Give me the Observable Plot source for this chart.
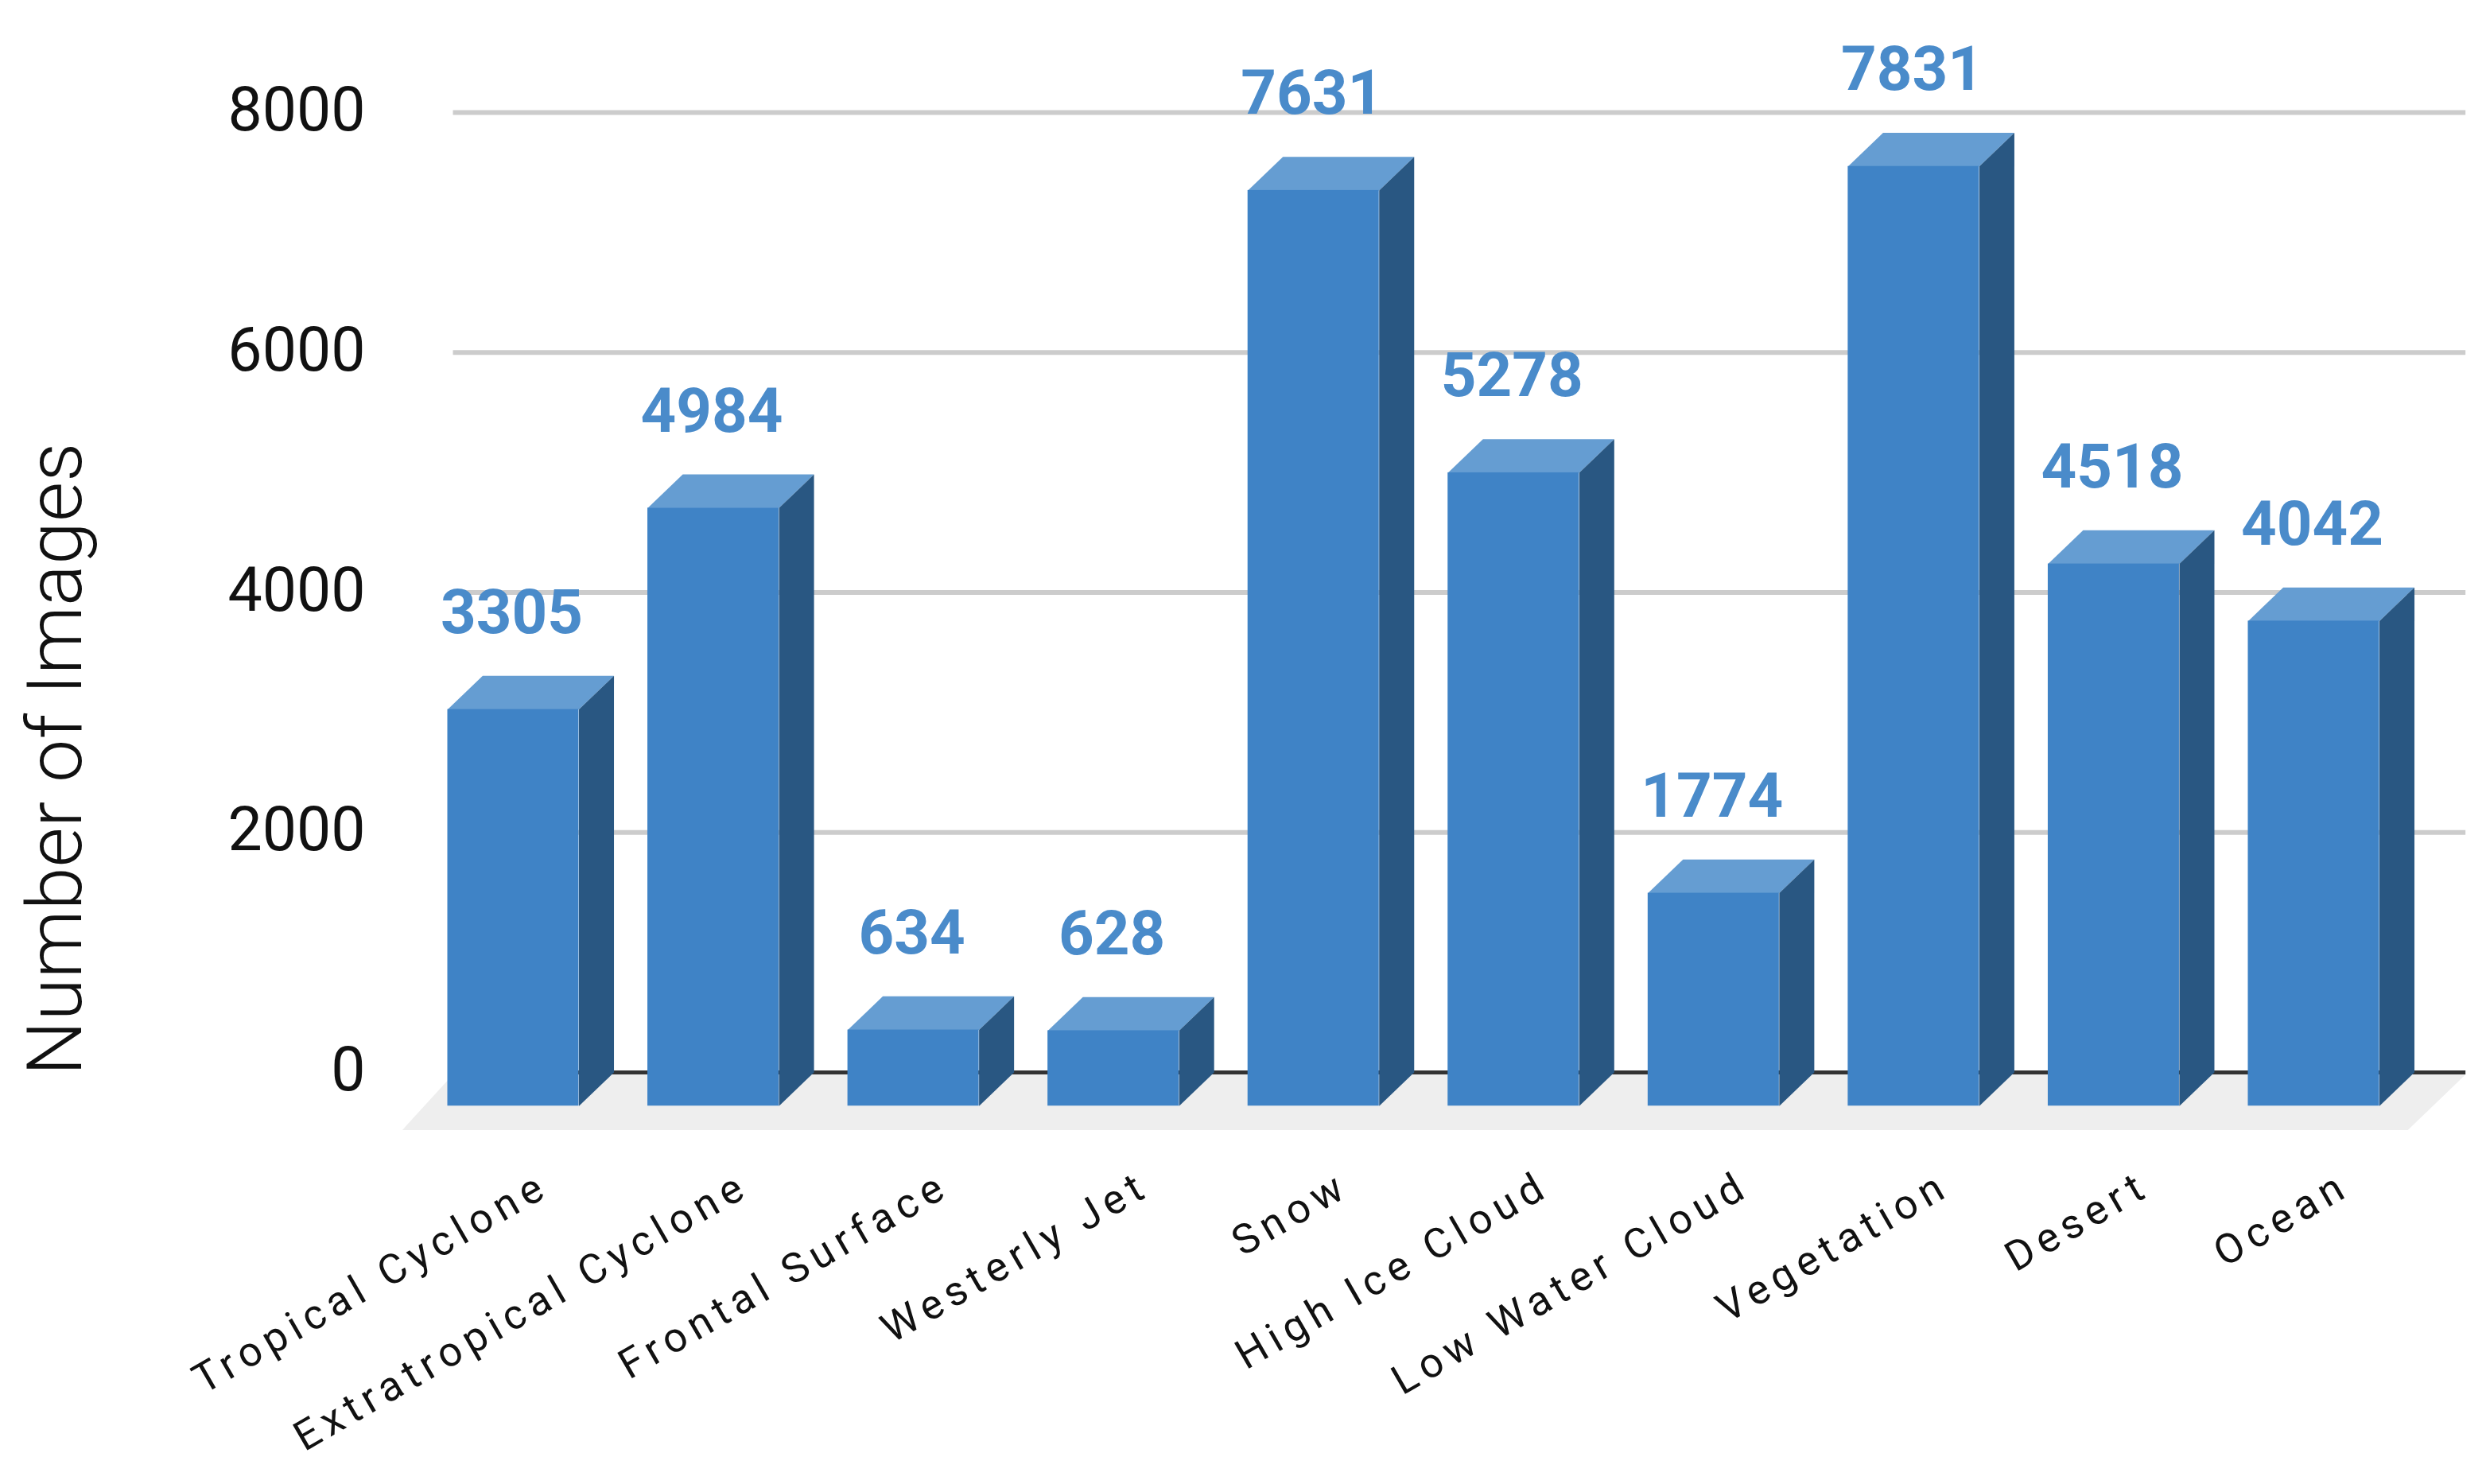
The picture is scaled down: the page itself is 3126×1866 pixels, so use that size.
<!DOCTYPE html>
<html><head><meta charset="utf-8">
<script src="https://cdn.jsdelivr.net/npm/d3@7"></script>
<script src="https://cdn.jsdelivr.net/npm/@observablehq/plot@0.6"></script>
<style>
html,body{margin:0;padding:0;background:#fff}
svg{display:block;background:#fff}
g[aria-label="x-axis tick label"] text{letter-spacing:7.7px}
</style></head><body><div id="c"></div><script>
const categories = ["Tropical Cyclone","Extratropical Cyclone","Frontal Surface","Westerly Jet","Snow","High Ice Cloud","Low Water Cloud","Vegetation","Desert","Ocean"];
const counts = [3305,4984,634,628,7631,5278,1774,7831,4518,4042];
const yTicks = [0,2000,4000,6000,8000];

const halfW = 0.328, depthX = 0.175, depthY = 280;
const rows = categories.map((c,i)=>({c,i,v:counts[i]}));
const poly = (fn)=>rows.flatMap(d=>fn(d).map(([x,y])=>({id:d.i,x,y})));
const topFace = poly(d=>[[d.i-halfW,d.v-depthY],[d.i+halfW,d.v-depthY],[d.i+halfW+depthX,d.v],[d.i-halfW+depthX,d.v]]);
const sideFace = poly(d=>[[d.i+halfW,-depthY],[d.i+halfW+depthX,0],[d.i+halfW+depthX,d.v],[d.i+halfW,d.v-depthY]]);
const floor = [[-0.30,-15],[9.76,-15],[9.47,-480],[-0.555,-480]].map(([x,y])=>({x,y}));
const font = "Roboto, sans-serif";

const chart = Plot.plot({
  width:3126, height:1866,
  marginLeft:569, marginRight:28, marginTop:60, marginBottom:410,
  style:{fontFamily:font, background:"#fff"},
  x:{type:"linear", domain:[0,9], range:[645,2909]},
  y:{type:"linear", domain:[0,8000], range:[1348,141]},
  marks:[
    Plot.ruleY(yTicks.filter(t=>t>0),{x1:-0.30,x2:9.76,stroke:"#ccc",strokeWidth:6}),
    Plot.line(floor,{x:"x",y:"y",fill:"#eee",stroke:"none"}),
    Plot.ruleY([0],{x1:-0.30,x2:9.76,stroke:"#333",strokeWidth:5}),
    Plot.line(topFace,{x:"x",y:"y",z:"id",fill:"#659dd2",stroke:"none"}),
    Plot.line(sideFace,{x:"x",y:"y",z:"id",fill:"#295782",stroke:"none"}),
    Plot.rect(rows,{x1:d=>d.i-halfW,x2:d=>d.i+halfW,y1:-depthY,y2:d=>d.v-depthY,fill:"#3f83c6"}),
    Plot.text(rows,{x:"i",y:d=>d.v-depthY,dx:-2,dy:-121,text:d=>String(d.v),fontSize:78,fontWeight:700,fill:"#4a8bca"}),
    Plot.axisY(yTicks,{anchor:"left",tickSize:0,tickPadding:110,fontSize:77,label:null,fill:"#111",dy:-2,tickFormat:d=>String(d)}),
    Plot.axisX(rows.map(d=>d.i),{anchor:"bottom",tickSize:0,tickPadding:30,tickRotate:-30,textAnchor:"end",lineAnchor:"middle",dx:40,
      tickFormat:i=>categories[i],fontSize:52,label:null,fill:"#111"}),
    Plot.text(["Number of Images"],{x:-2.285,y:2611,rotate:-90,fontSize:97,fontWeight:300,fill:"#111"})
  ]
});
document.getElementById("c").appendChild(chart);
</script></body></html>
